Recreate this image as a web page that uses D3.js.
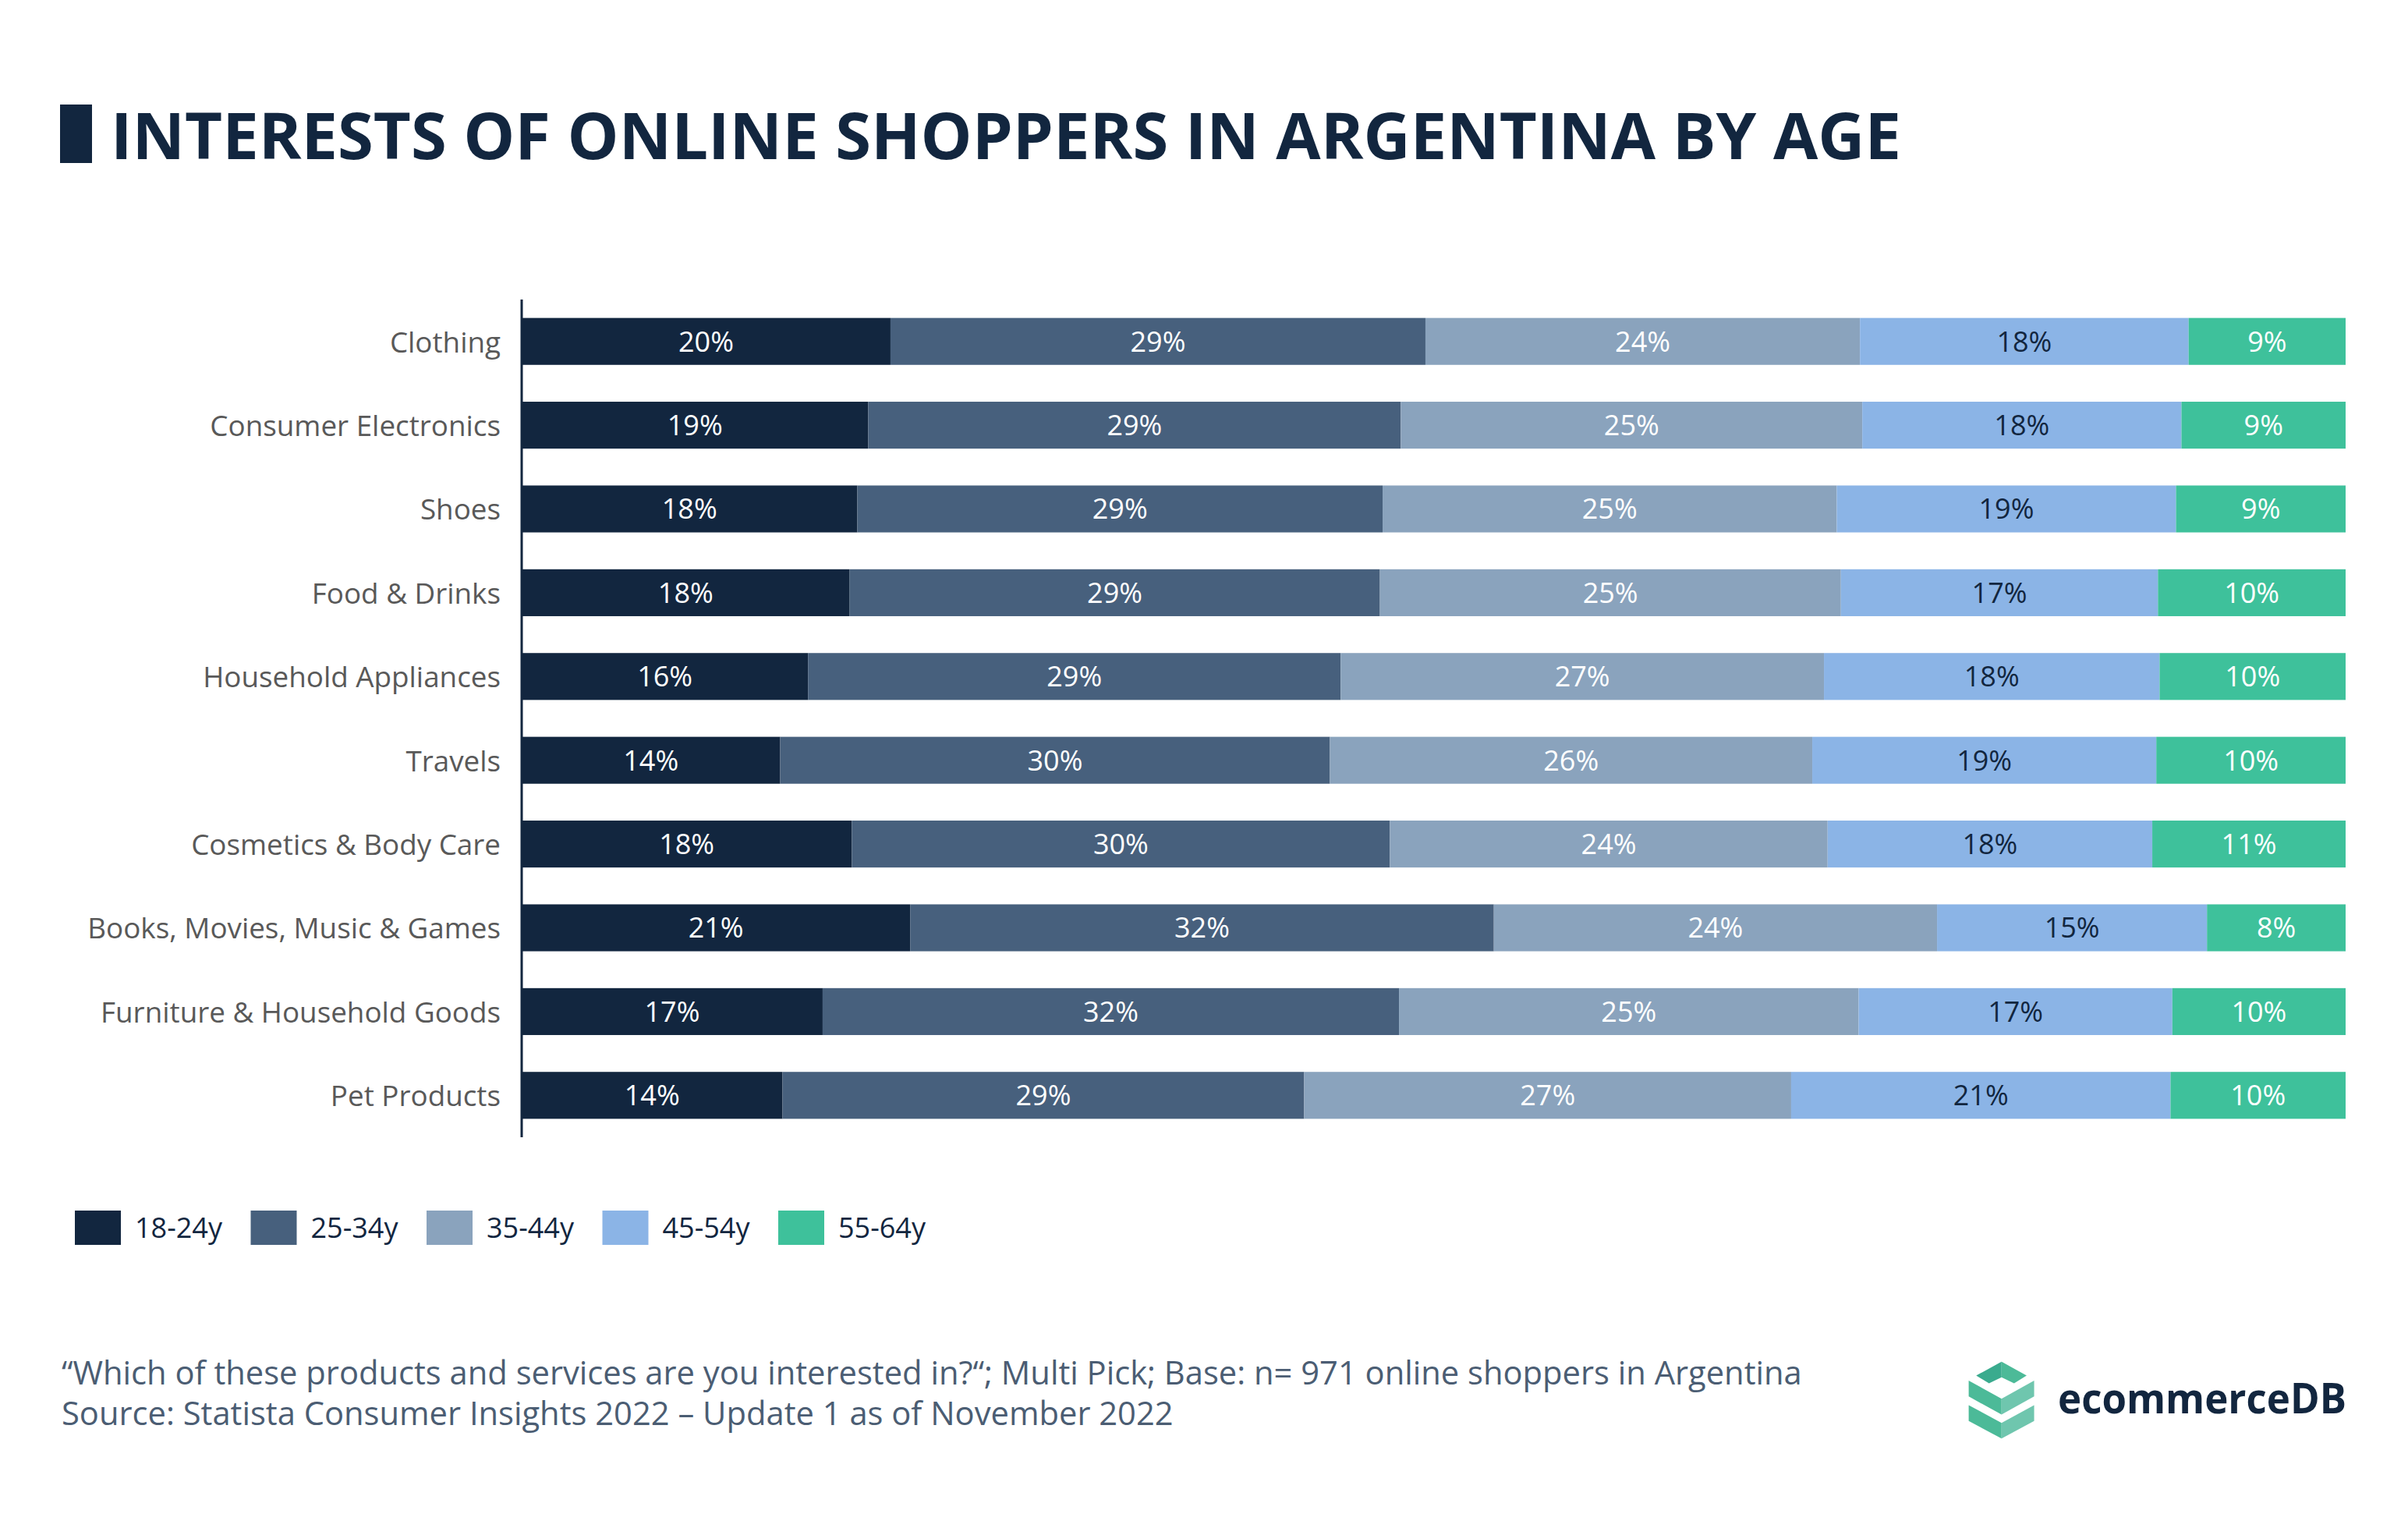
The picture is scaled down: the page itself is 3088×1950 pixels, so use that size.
<!DOCTYPE html>
<html><head><meta charset="utf-8">
<script src="https://cdn.jsdelivr.net/npm/d3@7"></script>
<style>html,body{margin:0;padding:0;background:#fff;}svg{display:block;font-family:"Open Sans",sans-serif;}</style>
</head><body><svg id="c" width="3088" height="1950"></svg>
<script>
const categories = ["Clothing","Consumer Electronics","Shoes","Food & Drinks","Household Appliances","Travels","Cosmetics & Body Care","Books, Movies, Music & Games","Furniture & Household Goods","Pet Products"];
const seriesNames = ["18-24y","25-34y","35-44y","45-54y","55-64y"];
const colors = ["#12263f","#47607d","#8aa3bd","#8bb4e6","#3ec19b"];
const labelColors = ["#ffffff","#ffffff","#ffffff","#12263f","#ffffff"];
// segment shares (%)
const s18 = [20.2,19.0,18.4,18.0,15.7,14.2,18.1,21.3,16.5,14.3];
const s25 = [29.3,29.2,28.8,29.1,29.2,30.2,29.5,32.0,31.6,28.6];
const s35 = [23.8,25.3,24.9,25.3,26.5,26.5,24.0,24.3,25.2,26.7];
const s45 = [18.0,17.5,18.6,17.4,18.4,18.9,17.8,14.8,17.2,20.8];
const s55 = [8.6,9.0,9.3,10.3,10.2,10.4,10.6,7.6,9.5,9.6];
// printed labels (%)
const l18 = [20,19,18,18,16,14,18,21,17,14];
const l25 = [29,29,29,29,29,30,30,32,32,29];
const l35 = [24,25,25,25,27,26,24,24,25,27];
const l45 = [18,18,19,17,18,19,18,15,17,21];
const l55 = [9,9,9,10,10,10,11,8,10,10];

const shares = [s18,s25,s35,s45,s55];
const labels = [l18,l25,l35,l45,l55];
const rows = categories.map((c,i)=>{const o={cat:c}; seriesNames.forEach((s,j)=>{o[s]=shares[j][i]; o["lab_"+s]=labels[j][i];}); return o;});
const stacked = d3.stack().keys(seriesNames).offset(d3.stackOffsetExpand)(rows);

const svg = d3.select("#c");
const x = d3.scaleLinear().domain([0,1]).range([669,3008]);
const y = d3.scaleBand().domain(categories).range([384,1458]).paddingInner(0.44).paddingOuter(0.22);

// title
svg.append("rect").attr("x",77).attr("y",134).attr("width",41).attr("height",75).attr("fill","#12263f");
svg.append("text").attr("x",142).attr("y",204).attr("font-size",83).attr("font-weight",700).attr("fill","#12263f")
  .attr("textLength",2296).attr("lengthAdjust","spacingAndGlyphs")
  .text("INTERESTS OF ONLINE SHOPPERS IN ARGENTINA BY AGE");

// bars
const g = svg.append("g");
stacked.forEach((layer,j)=>{
  const lg = g.append("g");
  lg.selectAll("rect").data(layer).join("rect")
    .attr("x",d=>x(d[0])).attr("width",d=>x(d[1])-x(d[0]))
    .attr("y",d=>y(d.data.cat)).attr("height",y.bandwidth())
    .attr("fill",colors[j]);
  lg.selectAll("text").data(layer).join("text")
    .attr("x",d=>(x(d[0])+x(d[1]))/2).attr("y",d=>y(d.data.cat)+y.bandwidth()/2)
    .attr("dy","0.36em").attr("text-anchor","middle").attr("font-size",36)
    .attr("fill",labelColors[j]).text(d=>d.data["lab_"+seriesNames[j]]+"%");
});

// y axis
const yAxis = d3.axisLeft(y).tickSize(0).tickPadding(27);
const ag = svg.append("g").attr("transform","translate(669,0)").call(yAxis);
ag.select(".domain").attr("stroke","#12263f").attr("stroke-width",3).attr("d","M0,384V1458");
ag.selectAll("text").attr("font-size",36.8).attr("fill","#595959").attr("font-family","'Open Sans',sans-serif").attr("dy","0.38em");

// legend
const leg = svg.append("g");
seriesNames.forEach((s,j)=>{
  const lx = 96 + j*225.5;
  leg.append("rect").attr("x",lx).attr("y",1552).attr("width",59).attr("height",44).attr("fill",colors[j]);
  leg.append("text").attr("x",lx+77).attr("y",1574).attr("dy","0.36em").attr("font-size",36).attr("fill","#12263f").text(s);
});

// footer
svg.append("text").attr("x",79).attr("y",1775).attr("font-size",41.7).attr("fill","#4b5d73")
  .text("\u201CWhich of these products and services are you interested in?\u201C; Multi Pick; Base: n= 971 online shoppers in Argentina");
svg.append("text").attr("x",79).attr("y",1827).attr("font-size",41.7).attr("fill","#4b5d73")
  .text("Source: Statista Consumer Insights 2022 \u2013 Update 1 as of November 2022");

// logo
const lg2 = svg.append("g").attr("transform","translate(2480,1720) scale(0.3571)");
lg2.append("path").attr("d","M152,122L243,72L243,128L198,150Z").attr("fill","#3aab8e");
lg2.append("path").attr("d","M243,72L333,122L288,150L243,128Z").attr("fill","#4cba98");
lg2.append("path").attr("d","M125,140L243,205L243,262L125,197Z").attr("fill","#4cba98");
lg2.append("path").attr("d","M243,205L360,140L360,197L243,262Z").attr("fill","#6fc6ae");
lg2.append("path").attr("d","M125,228L243,292L243,348L125,285Z").attr("fill","#4cba98");
lg2.append("path").attr("d","M243,292L360,228L360,285L243,348Z").attr("fill","#6fc6ae");
svg.append("text").attr("x",2639).attr("y",1812).attr("font-size",53).attr("font-weight",700).attr("fill","#12263f")
  .attr("textLength",370).attr("lengthAdjust","spacingAndGlyphs").text("ecommerceDB");
</script></body></html>
